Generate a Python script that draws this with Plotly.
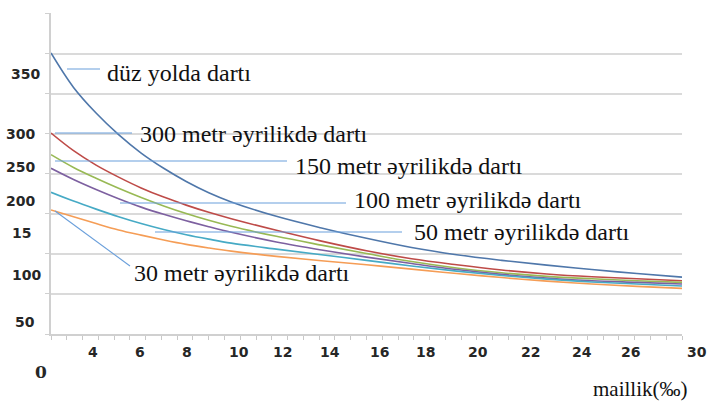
import plotly.graph_objects as go

# ---------------- data ----------------
slope = [2, 3, 4, 5, 6, 7, 8, 9, 10, 12, 14, 16, 18, 20, 22, 24, 26, 28, 30]

duz_yolda = [351, 308, 276, 249, 226, 207, 190.5, 176.5, 165, 147, 132.5, 119.5, 108, 99, 92, 86, 80.5, 75.5, 71]
m300 = [251, 229, 211, 196, 182.5, 171, 161, 152, 144, 129.5, 116, 104, 94, 86.5, 80, 75, 71.5, 69, 66.5]
m150 = [224, 208, 194.5, 182, 170.5, 160, 150.5, 142, 134.5, 122, 111, 100.5, 90.5, 82.5, 76.5, 72, 69, 66.5, 64.5]
m100 = [207, 193, 180.5, 169, 158.5, 149.5, 141.5, 134, 127, 115, 105, 96, 88, 80.5, 74.5, 70, 66.5, 64.5, 62.5]
m50 = [177, 166, 156, 146.5, 138, 130.5, 124, 118.5, 113.5, 106, 99, 92, 85, 78.5, 73, 68.5, 65, 62.5, 60]
m30 = [155, 146.5, 138, 130, 123.5, 117.5, 112, 107.5, 103.5, 97, 91.5, 86.5, 81, 75.5, 70.5, 66, 62.5, 59.5, 57]

series_names = [
    "düz yolda dartı",
    "300 metr əyrilikdə dartı",
    "150 metr əyrilikdə dartı",
    "100 metr əyrilikdə dartı",
    "50 metr əyrilikdə dartı",
    "30 metr əyrilikdə dartı",
]
series_values = [duz_yolda, m300, m150, m100, m50, m30]
series_colors = ["#4F77AA", "#BE4B48", "#98B954", "#7D60A0", "#46AAC5", "#F59D56"]

y_tick_labels = ["350", "300", "250", "200", "15", "100", "50", "0"]
x_tick_labels = ["4", "6", "8", "10", "12", "14", "16", "18", "20", "22", "24", "26", "30"]
x_title = "maillik(‰)"

# ---------------- layout helpers (pixel placement of free text) ----------------
W, H = 710, 401
L, R, T, B = 51, 28, 13, 67
PW, PH = W - L - R, H - T - B


def px(x):
    return (x - L) / PW


def py(y):
    return (H - B - y) / PH


fig = go.Figure()
for name, vals, col in zip(series_names, series_values, series_colors):
    fig.add_trace(go.Scatter(x=slope, y=vals, mode="lines", name=name,
                             line=dict(color=col, width=1.6, shape="spline", smoothing=1.0),
                             showlegend=False, hoverinfo="x+y+name"))

tick_font = dict(family="DejaVu Sans", size=14, color="#262626", weight="bold")
serif_font = dict(family="Liberation Serif", size=24, color="#111111")

annotations = []
y_label_pos = [(25, 74), (20.5, 134), (20.5, 167), (20.5, 200.5), (21, 233), (26.5, 275), (25.5, 322)]
for txt, (x, y) in zip(y_tick_labels[:-1], y_label_pos):
    annotations.append(dict(x=px(x), y=py(y), xref="paper", yref="paper", text=txt,
                            showarrow=False, xanchor="center", yanchor="middle", font=tick_font))
annotations.append(dict(x=px(41), y=py(372), xref="paper", yref="paper", text=y_tick_labels[-1],
                        showarrow=False, xanchor="center", yanchor="middle",
                        font=dict(family="DejaVu Serif", size=17, color="#262626", weight="bold")))

x_label_px = [93, 140, 187, 239, 282, 330, 380, 425, 478, 530, 582, 630, 697]
for txt, x in zip(x_tick_labels, x_label_px):
    annotations.append(dict(x=px(x), y=py(352), xref="paper", yref="paper", text=txt,
                            showarrow=False, xanchor="center", yanchor="middle", font=tick_font))

annotations.append(dict(x=px(592), y=py(389), xref="paper", yref="paper", text=x_title,
                        showarrow=False, xanchor="left", yanchor="middle", borderpad=0,
                        font=dict(family="Liberation Serif", size=21, color="#111111")))

label_pos = [(105, 73), (138, 134), (293, 166), (352, 200), (412, 232), (132, 273)]
for txt, (x, y) in zip(series_names, label_pos):
    annotations.append(dict(x=px(x), y=py(y), xref="paper", yref="paper", text=txt,
                            showarrow=False, xanchor="left", yanchor="middle", font=serif_font))

leaders = [((67, 69), (100, 69)), ((55, 133), (132, 133)), ((55, 161), (287, 161)),
           ((120, 203), (346, 203)), ((155, 232), (402, 232)), ((55, 211), (130, 266))]
shapes = []
for (x0, y0), (x1, y1) in leaders:
    shapes.append(dict(type="line", xref="paper", yref="paper", x0=px(x0), y0=py(y0),
                       x1=px(x1), y1=py(y1), line=dict(color="#6A9FDB", width=1.1)))

fig.update_layout(
    width=W, height=H,
    margin=dict(l=L, r=R, t=T, b=B),
    paper_bgcolor="white", plot_bgcolor="white",
    annotations=annotations, shapes=shapes,
    xaxis=dict(range=[2, 30], tickmode="linear", tick0=2, dtick=0.7, ticks="outside",
               ticklen=4, tickcolor="#C8C8C8", tickwidth=1, showticklabels=False,
               showgrid=False, zeroline=False, showline=True, linecolor="#D0D0D0", linewidth=2),
    yaxis=dict(range=[0, 401], tickmode="linear", tick0=0, dtick=50, ticks="outside",
               ticklen=4, tickcolor="#D0D0D0", showticklabels=False, showgrid=True,
               gridcolor="#DADADA", gridwidth=1.6, zeroline=False, showline=True,
               linecolor="#D0D0D0", linewidth=2),
)

fig.write_html("out.html", config={"displayModeBar": False},
               post_script="document.body.style.margin='0';document.body.style.padding='0';"
                           "document.documentElement.style.overflow='hidden';")
